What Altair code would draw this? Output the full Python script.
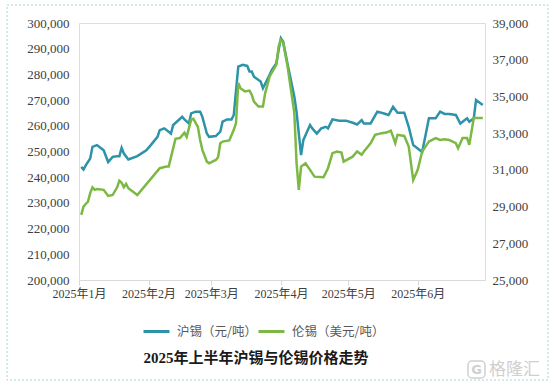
import altair as alt
import pandas as pd

# 沪锡 (元/吨) — left axis
sh_dates = [
    "2025-01-02", "2025-01-03", "2025-01-04", "2025-01-06", "2025-01-07", "2025-01-09",
    "2025-01-11", "2025-01-12", "2025-01-14", "2025-01-16", "2025-01-18", "2025-01-19",
    "2025-01-20", "2025-01-21", "2025-01-23", "2025-01-27", "2025-01-31", "2025-02-02",
    "2025-02-05", "2025-02-06", "2025-02-08", "2025-02-11", "2025-02-12", "2025-02-16",
    "2025-02-17", "2025-02-19", "2025-02-20", "2025-02-22", "2025-02-24", "2025-02-25",
    "2025-02-27", "2025-02-28", "2025-03-03", "2025-03-05", "2025-03-06", "2025-03-08",
    "2025-03-10", "2025-03-11", "2025-03-13", "2025-03-15", "2025-03-17", "2025-03-18",
    "2025-03-19", "2025-03-20", "2025-03-23", "2025-03-24", "2025-03-26", "2025-03-28",
    "2025-03-30", "2025-03-31", "2025-04-01", "2025-04-02", "2025-04-04", "2025-04-07",
    "2025-04-08", "2025-04-10", "2025-04-11", "2025-04-14", "2025-04-15", "2025-04-17",
    "2025-04-19", "2025-04-21", "2025-04-22", "2025-04-24", "2025-04-27", "2025-04-30",
    "2025-05-03", "2025-05-05", "2025-05-07", "2025-05-08", "2025-05-11", "2025-05-14",
    "2025-05-17", "2025-05-19", "2025-05-21", "2025-05-23", "2025-05-26", "2025-05-28",
    "2025-05-30", "2025-06-01", "2025-06-03", "2025-06-06", "2025-06-09", "2025-06-11",
    "2025-06-13", "2025-06-15", "2025-06-18", "2025-06-20", "2025-06-23", "2025-06-24",
    "2025-06-26", "2025-06-27", "2025-06-30",
]
sh_values = [
    244000, 243000, 244600, 247300, 251800, 252500,
    251200, 250500, 245900, 247900, 248200, 248200,
    251400, 249200, 246900, 248200, 250500, 252500,
    255700, 258300, 259000, 257000, 260300, 263500,
    262500, 260900, 264800, 265500, 265500, 263500,
    257000, 255700, 256000, 257700, 261600, 262500,
    262500, 264200, 283000, 283700, 283300, 281100,
    281100, 279100, 277200, 274600, 278100, 281800,
    284400, 289600, 294100, 292800, 284000, 271300,
    265300, 248600, 254400, 260300, 259000, 257000,
    259000, 259600, 259000, 262500, 262000, 262000,
    261200, 260500, 262200, 260900, 260900, 265500,
    264800, 264200, 267400, 265100, 265100, 259600,
    252500, 251200, 249800, 262900, 262900, 265500,
    264600, 264600, 264200, 260900, 262900, 261600,
    262900, 270000, 268100,
]

# 伦锡 (美元/吨) — right axis
ldn_dates = [
    "2025-01-02", "2025-01-03", "2025-01-04", "2025-01-05", "2025-01-06", "2025-01-07",
    "2025-01-08", "2025-01-09", "2025-01-12", "2025-01-14", "2025-01-16", "2025-01-18",
    "2025-01-19", "2025-01-20", "2025-01-21", "2025-01-22", "2025-01-23", "2025-01-27",
    "2025-02-06", "2025-02-09", "2025-02-10", "2025-02-13", "2025-02-15", "2025-02-17",
    "2025-02-18", "2025-02-20", "2025-02-21", "2025-02-23", "2025-02-24", "2025-02-25",
    "2025-02-27", "2025-02-28", "2025-03-03", "2025-03-04", "2025-03-05", "2025-03-06",
    "2025-03-09", "2025-03-11", "2025-03-12", "2025-03-13", "2025-03-14", "2025-03-16",
    "2025-03-18", "2025-03-19", "2025-03-20", "2025-03-22", "2025-03-24", "2025-03-25",
    "2025-03-27", "2025-03-30", "2025-03-31", "2025-04-01", "2025-04-02", "2025-04-04",
    "2025-04-07", "2025-04-08", "2025-04-09", "2025-04-10", "2025-04-12", "2025-04-14",
    "2025-04-16", "2025-04-20", "2025-04-22", "2025-04-24", "2025-04-26", "2025-04-28",
    "2025-04-29", "2025-05-03", "2025-05-05", "2025-05-07", "2025-05-08", "2025-05-11",
    "2025-05-13", "2025-05-16", "2025-05-18", "2025-05-20", "2025-05-21", "2025-05-22",
    "2025-05-23", "2025-05-26", "2025-05-28", "2025-05-30", "2025-06-01", "2025-06-03",
    "2025-06-05", "2025-06-06", "2025-06-09", "2025-06-11", "2025-06-13", "2025-06-15",
    "2025-06-18", "2025-06-19", "2025-06-21", "2025-06-23", "2025-06-24", "2025-06-26",
    "2025-06-30",
]
ldn_values = [
    28550, 29000, 29140, 29270, 29730, 30050,
    29910, 29950, 29910, 29580, 29630, 30050,
    30410, 30300, 30050, 30230, 30000, 29630,
    31090, 31180, 31180, 32690, 32730, 33020,
    32800, 33730, 33780, 33340, 32630, 32090,
    31450, 31360, 31540, 31690, 32450, 32540,
    32600, 33180, 33550, 35730, 35450, 35270,
    35320, 35090, 34720, 34450, 34450, 35180,
    36090, 36730, 37720, 38090, 37940, 36630,
    34090, 31360, 29910, 31180, 31360, 31000,
    30630, 30600, 31090, 31910, 32000, 31940,
    31450, 31720, 32000, 31820, 32000, 32450,
    32910, 33000, 33030, 33140, 32810, 32450,
    32910, 32850, 32270, 30450, 31000, 32000,
    32360, 32540, 32730, 32630, 32670, 32630,
    32450, 32180, 32730, 32730, 32360, 33820,
    33820,
]

series_names = ["沪锡（元/吨）", "伦锡（美元/吨）"]
series_colors = ["#2c93a8", "#7cb844"]
left_ticks = [200000, 210000, 220000, 230000, 240000, 250000, 260000, 270000, 280000, 290000, 300000]
right_ticks = [25000, 27000, 29000, 31000, 33000, 35000, 37000, 39000]
month_ticks = [1, 2, 3, 4, 5, 6]
title_text = "2025年上半年沪锡与伦锡价格走势"
watermark_text = "格隆汇"
watermark_icon = "G"

sh_df = pd.DataFrame({"date": sh_dates, "value": sh_values, "series": series_names[0]})
ldn_df = pd.DataFrame({"date": ldn_dates, "value": ldn_values, "series": series_names[1]})

NUM_FONT = "Liberation Serif, Noto Sans CJK SC"
CJK_FONT = "Noto Sans CJK SC"

x_enc = alt.X(
    "date:T",
    scale=alt.Scale(
        type="utc",
        domain=[alt.DateTime(year=2025, month=1, date=1, utc=True),
                alt.DateTime(year=2025, month=7, date=1, utc=True)],
    ),
    axis=alt.Axis(
        values=[alt.DateTime(year=2025, month=m, date=1, utc=True) for m in month_ticks],
        format="%Y年%-m月",
        title=None,
        grid=False,
        domainColor="#d9d9d9",
        tickColor="#d9d9d9",
        tickSize=5,
        labelPadding=3,
        labelOverlap=False,
        labelFlush=False,
        labelFont=NUM_FONT,
        labelFontSize=12,
        labelColor="#404040",
    ),
)

color_enc = alt.Color(
    "series:N",
    scale=alt.Scale(domain=series_names, range=series_colors),
    legend=alt.Legend(
        orient="none",
        legendX=63,
        legendY=294,
        direction="horizontal",
        title=None,
        symbolType="stroke",
        symbolStrokeWidth=3,
        symbolSize=676,
        labelFont=CJK_FONT,
        labelFontSize=12.5,
        labelColor="#595959",
        columnPadding=-18,
        labelOffset=6,
    ),
)

sh_line = alt.Chart(sh_df).mark_line(strokeWidth=2.5).encode(
    x=x_enc,
    y=alt.Y(
        "value:Q",
        scale=alt.Scale(domain=[200000, 300000], nice=False, zero=False),
        axis=alt.Axis(
            orient="left", values=left_ticks, format=",d", title=None, grid=False,
            domain=False, ticks=False, labelPadding=10, labelFont=NUM_FONT,
            labelFontSize=13, labelColor="#404040",
        ),
    ),
    color=color_enc,
)

ldn_line = alt.Chart(ldn_df).mark_line(strokeWidth=2.5).encode(
    x=x_enc,
    y=alt.Y(
        "value:Q",
        scale=alt.Scale(domain=[25000, 39000], nice=False, zero=False),
        axis=alt.Axis(
            orient="right", values=right_ticks, format=",d", title=None, grid=False,
            domain=False, ticks=False, labelPadding=7, labelFont=NUM_FONT,
            labelFontSize=13, labelColor="#404040",
        ),
    ),
    color=color_enc,
)

deco_df = pd.DataFrame({"k": [0]})
border = alt.Chart(deco_df).mark_rect(
    fillOpacity=0, stroke="#a9d6d6", strokeWidth=1, strokeDash=[2, 2], clip=False
).encode(x=alt.value(-72), x2=alt.value(469), y=alt.value(-18), y2=alt.value(357))

title_mark = alt.Chart(deco_df).mark_text(
    text=title_text, font=NUM_FONT, fontSize=15, fontWeight="bold", color="#1a1a1a",
    align="center", baseline="middle", clip=False,
).encode(x=alt.value(177), y=alt.value(335))

icon_box = alt.Chart(deco_df).mark_rect(
    fillOpacity=0, stroke="#d0d0d0", strokeWidth=1.5, cornerRadius=4, clip=False
).encode(x=alt.value(389), x2=alt.value(406), y=alt.value(338), y2=alt.value(355))

icon = alt.Chart(deco_df).mark_text(
    text=watermark_icon, font="DejaVu Sans", fontSize=13, fontWeight="bold", color="#d0d0d0",
    align="center", baseline="middle", clip=False,
).encode(x=alt.value(397.5), y=alt.value(347))

watermark = alt.Chart(deco_df).mark_text(
    text=watermark_text, font=CJK_FONT, fontSize=17, color="#cfcfcf", align="left",
    baseline="middle", clip=False,
).encode(x=alt.value(410), y=alt.value(347))

chart = (
    alt.layer(border, title_mark, icon_box, icon, watermark, sh_line, ldn_line)
    .resolve_scale(y="independent")
    .properties(
        width=406,
        height=257,
        padding={"left": 79, "top": 23, "right": 69, "bottom": 105},
        autosize=alt.AutoSizeParams(type="none"),
    )
    .configure_view(stroke=None)
    .configure(background="white")
)

chart.save("out.html", embed_options={"renderer": "svg", "actions": False})
